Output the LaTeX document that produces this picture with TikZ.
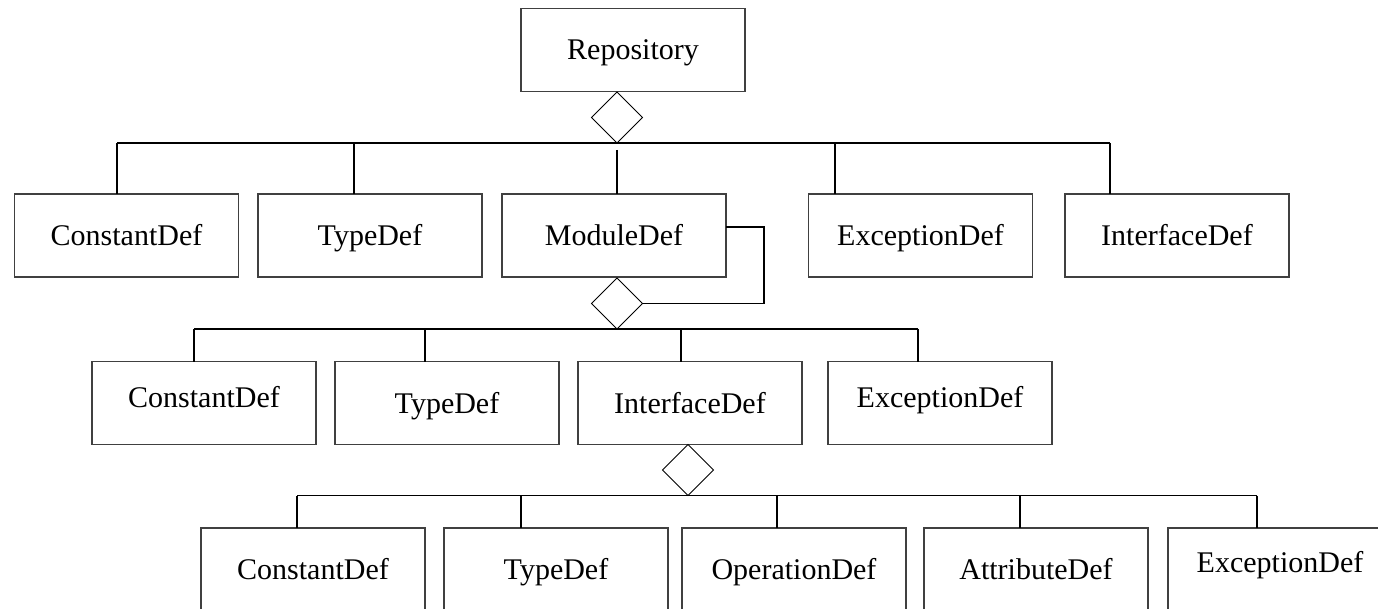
\documentclass[tikz,border=0pt]{standalone}
\usepackage{fontspec}
\setmainfont{Liberation Serif}
\usetikzlibrary{shapes.geometric}

\begin{document}
\begin{tikzpicture}[x=1pt,y=-1pt,
  classbox/.style={draw=black!75, line width=1.1pt, minimum width=224pt, minimum height=83pt, inner sep=0pt, outer sep=0pt, text height=27pt, text depth=7pt, font=\fontsize{30}{36}\selectfont},
  agg/.style={diamond, draw, line width=1pt, aspect=1, minimum size=51pt, inner sep=0pt, outer sep=0pt},
  link/.style={line width=1.1pt},
  lifted/.style={text depth=18pt}]

\useasboundingbox (0,0) rectangle (1378,609);

% Root class and its aggregation
\node[classbox] (repo) at (633,50) {Repository};
\node[agg, anchor=north] (repoagg) at (617,92) {};

% First level
\node[classbox] (const1) at (126.5,235.5) {ConstantDef};
\node[classbox] (type1) at (370,235.5) {TypeDef};
\node[classbox] (module) at (614,235.5) {ModuleDef};
\node[classbox] (exc1) at (920.5,235.5) {ExceptionDef};
\node[classbox] (iface1) at (1177,235.5) {InterfaceDef};

% Bus under Repository
\coordinate (t1a) at (117,143);
\coordinate (t1b) at (354,143);
\coordinate (t1c) at (617,150);
\coordinate (t1d) at (835,143);
\coordinate (t1e) at (1110,143);
\draw[link] (t1a) -- (t1e);
\draw[link] (t1a) -- (t1a |- const1.north);
\draw[link] (t1b) -- (t1b |- type1.north);
\draw[link] (t1c) -- (t1c |- module.north);
\draw[link] (t1d) -- (t1d |- exc1.north);
\draw[link] (t1e) -- (t1e |- iface1.north);

% Module aggregation with self loop
\node[agg, anchor=north] (modagg) at (617,278) {};
\coordinate (loop) at (764,303.5);
\draw[link] ([yshift=8.5pt]module.east) -| (loop) -- (modagg.east);

% Second level
\node[classbox, lifted] (const2) at (204,403) {ConstantDef};
\node[classbox] (type2) at (447,403) {TypeDef};
\node[classbox] (iface2) at (690,403) {InterfaceDef};
\node[classbox, lifted] (exc2) at (940,403) {ExceptionDef};

% Bus under ModuleDef
\coordinate (t2a) at (194,329);
\coordinate (t2b) at (425,329);
\coordinate (t2c) at (681,329);
\coordinate (t2d) at (918,329);
\draw[link] (t2a) -- (t2d);
\draw[link] (t2a) -- (t2a |- const2.north);
\draw[link] (t2b) -- (t2b |- type2.north);
\draw[link] (t2c) -- (t2c |- iface2.north);
\draw[link] (t2d) -- (t2d |- exc2.north);

% Interface aggregation
\node[agg, anchor=north] (ifaceagg) at (688,444.5) {};

% Third level
\node[classbox] (const3) at (313,569.5) {ConstantDef};
\node[classbox] (type3) at (556,569.5) {TypeDef};
\node[classbox] (oper3) at (794,569.5) {OperationDef};
\node[classbox] (attr3) at (1036,569.5) {AttributeDef};
\node[classbox, text depth=22pt] (exc3) at (1280,569.5) {ExceptionDef};

% Bus under InterfaceDef
\coordinate (t3a) at (297,495.5);
\coordinate (t3b) at (521,495.5);
\coordinate (t3c) at (777,495.5);
\coordinate (t3d) at (1020,495.5);
\coordinate (t3e) at (1257,495.5);
\draw[link] (t3a) -- (t3e);
\draw[link] (t3a) -- (t3a |- const3.north);
\draw[link] (t3b) -- (t3b |- type3.north);
\draw[link] (t3c) -- (t3c |- oper3.north);
\draw[link] (t3d) -- (t3d |- attr3.north);
\draw[link] (t3e) -- (t3e |- exc3.north);

\end{tikzpicture}
\end{document}
